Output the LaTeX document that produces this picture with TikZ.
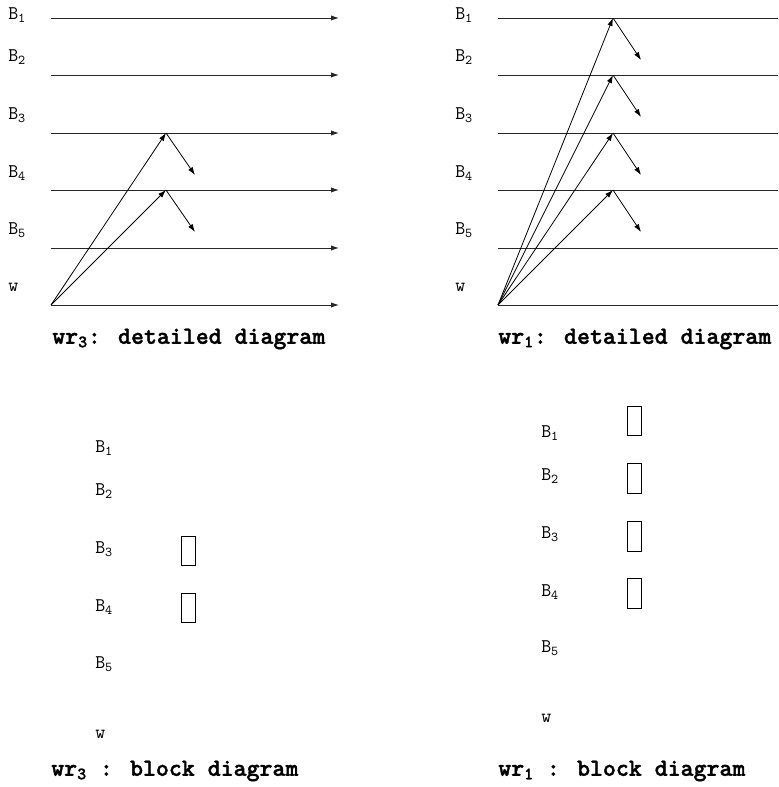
\documentclass[tikz,border=0pt]{standalone}
\usepackage{fontspec}
\newfontfamily\capfont{lmmonolt10-bold}[Extension=.otf, FakeBold=1.5]
\usetikzlibrary{arrows.meta}

\begin{document}
\begin{tikzpicture}[x=0.75pt, y=-0.75pt,
  lbl/.style={anchor=west, inner sep=0pt, font=\ttfamily\fontsize{14.5pt}{16pt}\selectfont},
  captxt/.style={anchor=west, inner sep=0pt, font=\capfont\fontsize{18.5pt}{20pt}\selectfont},
  wire/.style={line width=0.7pt, black!85},
  hop/.style={line width=0.6pt, -{Latex[length=6pt, width=4pt]}},
  blk/.style={draw, line width=0.7pt, minimum width=10.5pt, minimum height=22pt, inner sep=0pt}]

  \useasboundingbox (0,0) rectangle (778,787);

  % detailed diagrams: buses and labels
  \foreach \y [count=\i] in {18,75,133,190,248,305} {
    \coordinate (l\i) at (51,\y);
    \coordinate (le\i) at (339,\y);
    \coordinate (r\i) at (498,\y);
    \coordinate (re\i) at (778,\y);
    \draw[wire, -{Latex[length=6pt, width=4pt]}] (l\i) -- (le\i);
    \draw[wire] (r\i) -- (re\i);
  }
  \foreach \t/\y [count=\i] in {B\textsubscript{1}/15, B\textsubscript{2}/57, B\textsubscript{3}/115,
      B\textsubscript{4}/173, B\textsubscript{5}/230, w/287} {
    \node[lbl] (lb\i) at (8,\y) {\t};
    \node[lbl] (rb\i) at (455,\y) {\t};
  }

  % wr3: reads from w into B3 and B4
  \foreach \i/\y in {3/133, 4/190} {
    \coordinate (lp\i) at (166,\y);
    \coordinate (lq\i) at (195,\y+42);
    \draw[hop] (l6) -- (lp\i);
    \draw[hop] (lp\i) -- (lq\i);
  }

  % wr1: reads from w into B1 to B4
  \foreach \i/\y in {1/18, 2/75, 3/133, 4/190} {
    \coordinate (rp\i) at (613,\y);
    \coordinate (rq\i) at (641,\y+42);
    \draw[hop] (r6) -- (rp\i);
    \draw[hop] (rp\i) -- (rq\i);
  }

  \node[captxt] (c1) at (52,339) {wr\textsubscript{3}: detailed diagram};
  \node[captxt] (c2) at (498,339) {wr\textsubscript{1}: detailed diagram};

  % block diagrams
  \foreach \t/\y [count=\i] in {B\textsubscript{1}/448, B\textsubscript{2}/491, B\textsubscript{3}/549,
      B\textsubscript{4}/607, B\textsubscript{5}/664, w/734}
    \node[lbl] (lk\i) at (95,\y) {\t};
  \foreach \t/\y [count=\i] in {B\textsubscript{1}/433, B\textsubscript{2}/476, B\textsubscript{3}/534,
      B\textsubscript{4}/592, B\textsubscript{5}/648, w/718}
    \node[lbl] (rk\i) at (541,\y) {\t};

  \node[blk] (lx3) at (188,551) {};
  \node[blk] (lx4) at (188,608) {};
  \foreach \y [count=\i] in {421,478.5,536.5,593.5}
    \node[blk] (rx\i) at (634.5,\y) {};

  \node[captxt] (c3) at (51,771) {wr\textsubscript{3} : block diagram};
  \node[captxt] (c4) at (498,771) {wr\textsubscript{1} : block diagram};

\end{tikzpicture}
\end{document}
